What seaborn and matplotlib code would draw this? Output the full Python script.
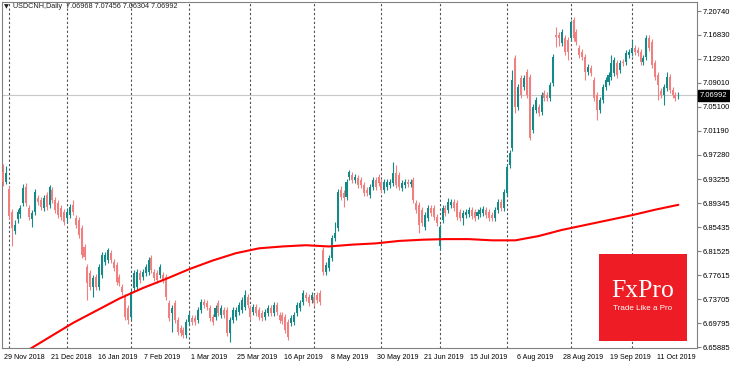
import numpy as np
import pandas as pd
import matplotlib
matplotlib.use("Agg")
import matplotlib.pyplot as plt
import matplotlib.transforms as mtransforms
from matplotlib.patches import Rectangle
import seaborn as sns

# USDCNH daily candles, 29 Nov 2018 .. 22 Oct 2019 (bar index = trading day)
open_ = [
    6.945, 6.928, 6.917, 6.879, 6.848, 6.868, 6.876, 6.894, 6.920, 6.886,
    6.868, 6.879, 6.902, 6.899, 6.886, 6.907, 6.891, 6.915, 6.899, 6.894,
    6.886, 6.879, 6.869, 6.874, 6.891, 6.869, 6.866, 6.853, 6.822, 6.789,
    6.780, 6.757, 6.773, 6.757, 6.776, 6.798, 6.801, 6.812, 6.798, 6.793,
    6.773, 6.757, 6.741, 6.723, 6.708, 6.755, 6.757, 6.780, 6.773, 6.780,
    6.781, 6.804, 6.781, 6.780, 6.776, 6.776, 6.773, 6.731, 6.714, 6.731,
    6.703, 6.690, 6.687, 6.678, 6.700, 6.706, 6.706, 6.703, 6.719, 6.732,
    6.731, 6.723, 6.708, 6.708, 6.731, 6.711, 6.719, 6.719, 6.682, 6.703,
    6.708, 6.716, 6.719, 6.724, 6.741, 6.723, 6.716, 6.724, 6.719, 6.714,
    6.708, 6.714, 6.723, 6.714, 6.728, 6.711, 6.711, 6.708, 6.700, 6.698,
    6.700, 6.714, 6.723, 6.732, 6.744, 6.741, 6.736, 6.741, 6.744, 6.747,
    6.817, 6.781, 6.788, 6.804, 6.837, 6.853, 6.915, 6.911, 6.904, 6.937,
    6.940, 6.932, 6.935, 6.932, 6.924, 6.915, 6.907, 6.920, 6.932, 6.937,
    6.928, 6.915, 6.920, 6.924, 6.927, 6.943, 6.940, 6.919, 6.924, 6.928,
    6.925, 6.932, 6.894, 6.891, 6.883, 6.855, 6.869, 6.886, 6.886, 6.871,
    6.824, 6.866, 6.886, 6.883, 6.891, 6.896, 6.894, 6.879, 6.869, 6.874,
    6.876, 6.883, 6.879, 6.873, 6.876, 6.878, 6.883, 6.879, 6.874, 6.869,
    6.883, 6.896, 6.886, 6.911, 6.956, 6.984, 7.131, 7.051, 7.098, 7.083,
    7.108, 7.100, 7.013, 7.046, 7.051, 7.043, 7.073, 7.070, 7.065, 7.090,
    7.168, 7.168, 7.155, 7.163, 7.160, 7.163, 7.193, 7.173, 7.147, 7.140,
    7.132, 7.108, 7.114, 7.095, 7.070, 7.046, 7.062, 7.083, 7.091, 7.100,
    7.106, 7.123, 7.111, 7.124, 7.124, 7.136, 7.139, 7.147, 7.144, 7.140,
    7.124, 7.132, 7.163, 7.157, 7.123, 7.103, 7.077, 7.070, 7.082, 7.100,
    7.078, 7.070, 7.06968,
]
high = [
    6.958, 6.954, 6.922, 6.884, 6.866, 6.884, 6.891, 6.925, 6.927, 6.891,
    6.883, 6.917, 6.907, 6.904, 6.907, 6.912, 6.924, 6.920, 6.904, 6.899,
    6.891, 6.884, 6.884, 6.892, 6.899, 6.874, 6.871, 6.858, 6.827, 6.794,
    6.785, 6.777, 6.778, 6.794, 6.814, 6.814, 6.821, 6.817, 6.803, 6.798,
    6.778, 6.762, 6.746, 6.727, 6.754, 6.785, 6.787, 6.785, 6.786, 6.794,
    6.806, 6.809, 6.786, 6.785, 6.794, 6.781, 6.778, 6.736, 6.728, 6.736,
    6.708, 6.695, 6.692, 6.705, 6.716, 6.711, 6.711, 6.724, 6.737, 6.737,
    6.736, 6.728, 6.713, 6.728, 6.736, 6.728, 6.724, 6.724, 6.708, 6.724,
    6.724, 6.733, 6.741, 6.752, 6.746, 6.728, 6.729, 6.729, 6.724, 6.719,
    6.721, 6.728, 6.728, 6.733, 6.733, 6.716, 6.716, 6.713, 6.705, 6.711,
    6.716, 6.733, 6.736, 6.752, 6.749, 6.746, 6.749, 6.746, 6.749, 6.752,
    6.822, 6.798, 6.809, 6.842, 6.863, 6.917, 6.922, 6.916, 6.933, 6.948,
    6.945, 6.942, 6.940, 6.937, 6.929, 6.920, 6.925, 6.937, 6.937, 6.942,
    6.933, 6.933, 6.933, 6.933, 6.961, 6.956, 6.945, 6.932, 6.933, 6.933,
    6.933, 6.937, 6.899, 6.896, 6.888, 6.879, 6.891, 6.891, 6.891, 6.876,
    6.860, 6.891, 6.891, 6.902, 6.901, 6.901, 6.899, 6.884, 6.883, 6.884,
    6.888, 6.888, 6.884, 6.884, 6.888, 6.889, 6.888, 6.884, 6.879, 6.888,
    6.901, 6.901, 6.917, 6.958, 6.981, 7.111, 7.136, 7.088, 7.103, 7.103,
    7.113, 7.105, 7.056, 7.067, 7.056, 7.075, 7.078, 7.075, 7.092, 7.137,
    7.181, 7.173, 7.178, 7.168, 7.165, 7.193, 7.198, 7.178, 7.152, 7.145,
    7.137, 7.121, 7.119, 7.100, 7.075, 7.067, 7.088, 7.100, 7.108, 7.136,
    7.132, 7.128, 7.128, 7.129, 7.144, 7.145, 7.160, 7.152, 7.149, 7.145,
    7.136, 7.168, 7.168, 7.162, 7.128, 7.108, 7.082, 7.088, 7.108, 7.105,
    7.083, 7.075, 7.07456,
]
low = [
    6.922, 6.925, 6.868, 6.824, 6.843, 6.862, 6.870, 6.889, 6.889, 6.866,
    6.855, 6.874, 6.891, 6.883, 6.881, 6.883, 6.886, 6.894, 6.878, 6.870,
    6.866, 6.858, 6.861, 6.869, 6.874, 6.853, 6.837, 6.804, 6.801, 6.736,
    6.752, 6.741, 6.752, 6.752, 6.771, 6.793, 6.796, 6.796, 6.783, 6.760,
    6.758, 6.744, 6.703, 6.697, 6.703, 6.750, 6.752, 6.763, 6.768, 6.775,
    6.776, 6.780, 6.767, 6.763, 6.771, 6.763, 6.736, 6.701, 6.683, 6.698,
    6.678, 6.677, 6.673, 6.673, 6.695, 6.695, 6.695, 6.698, 6.714, 6.723,
    6.719, 6.701, 6.695, 6.703, 6.709, 6.706, 6.706, 6.677, 6.667, 6.698,
    6.703, 6.711, 6.714, 6.719, 6.723, 6.703, 6.711, 6.709, 6.703, 6.701,
    6.703, 6.709, 6.709, 6.709, 6.711, 6.698, 6.696, 6.682, 6.670, 6.693,
    6.695, 6.709, 6.718, 6.727, 6.734, 6.726, 6.731, 6.726, 6.731, 6.727,
    6.776, 6.776, 6.783, 6.799, 6.832, 6.848, 6.899, 6.887, 6.899, 6.932,
    6.927, 6.927, 6.919, 6.919, 6.906, 6.906, 6.902, 6.915, 6.915, 6.922,
    6.910, 6.910, 6.915, 6.919, 6.922, 6.919, 6.915, 6.914, 6.919, 6.920,
    6.920, 6.894, 6.878, 6.845, 6.856, 6.850, 6.864, 6.873, 6.866, 6.856,
    6.817, 6.861, 6.873, 6.878, 6.886, 6.881, 6.866, 6.864, 6.858, 6.869,
    6.871, 6.868, 6.864, 6.868, 6.871, 6.873, 6.869, 6.864, 6.864, 6.864,
    6.878, 6.881, 6.881, 6.906, 6.951, 6.979, 7.041, 7.046, 7.065, 7.078,
    7.065, 6.997, 7.008, 7.041, 7.036, 7.038, 7.060, 7.060, 7.060, 7.085,
    7.149, 7.150, 7.150, 7.135, 7.127, 7.158, 7.158, 7.152, 7.131, 7.127,
    7.095, 7.103, 7.101, 7.060, 7.030, 7.041, 7.057, 7.078, 7.086, 7.095,
    7.101, 7.098, 7.106, 7.118, 7.119, 7.131, 7.134, 7.135, 7.134, 7.119,
    7.119, 7.127, 7.142, 7.114, 7.095, 7.062, 7.065, 7.054, 7.077, 7.073,
    7.065, 7.060, 7.06304,
]
close = [
    6.928, 6.943, 6.873, 6.853, 6.858, 6.879, 6.886, 6.919, 6.894, 6.871,
    6.878, 6.912, 6.896, 6.887, 6.902, 6.887, 6.920, 6.899, 6.883, 6.874,
    6.871, 6.863, 6.879, 6.887, 6.879, 6.858, 6.842, 6.809, 6.806, 6.763,
    6.757, 6.772, 6.757, 6.789, 6.809, 6.809, 6.817, 6.801, 6.788, 6.765,
    6.763, 6.749, 6.708, 6.703, 6.749, 6.780, 6.781, 6.768, 6.781, 6.789,
    6.801, 6.785, 6.772, 6.768, 6.789, 6.768, 6.741, 6.706, 6.723, 6.703,
    6.683, 6.682, 6.678, 6.700, 6.711, 6.700, 6.700, 6.719, 6.732, 6.728,
    6.724, 6.706, 6.700, 6.723, 6.714, 6.723, 6.711, 6.682, 6.703, 6.719,
    6.719, 6.728, 6.736, 6.744, 6.728, 6.708, 6.724, 6.714, 6.708, 6.706,
    6.716, 6.723, 6.714, 6.728, 6.716, 6.703, 6.701, 6.687, 6.675, 6.706,
    6.711, 6.728, 6.731, 6.747, 6.739, 6.731, 6.744, 6.731, 6.736, 6.732,
    6.781, 6.793, 6.804, 6.837, 6.845, 6.912, 6.904, 6.902, 6.928, 6.945,
    6.932, 6.937, 6.924, 6.924, 6.911, 6.911, 6.920, 6.932, 6.920, 6.927,
    6.915, 6.928, 6.928, 6.928, 6.943, 6.924, 6.920, 6.927, 6.928, 6.925,
    6.928, 6.899, 6.883, 6.858, 6.861, 6.874, 6.886, 6.878, 6.871, 6.861,
    6.855, 6.886, 6.878, 6.896, 6.896, 6.886, 6.871, 6.869, 6.878, 6.879,
    6.883, 6.873, 6.869, 6.879, 6.883, 6.884, 6.874, 6.869, 6.869, 6.883,
    6.896, 6.886, 6.912, 6.953, 6.976, 7.095, 7.051, 7.083, 7.070, 7.098,
    7.070, 7.000, 7.051, 7.062, 7.041, 7.070, 7.065, 7.065, 7.087, 7.132,
    7.165, 7.163, 7.173, 7.140, 7.140, 7.189, 7.163, 7.157, 7.136, 7.132,
    7.108, 7.116, 7.106, 7.065, 7.046, 7.062, 7.083, 7.095, 7.103, 7.123,
    7.127, 7.103, 7.123, 7.123, 7.139, 7.140, 7.147, 7.140, 7.139, 7.124,
    7.131, 7.163, 7.147, 7.119, 7.100, 7.087, 7.070, 7.083, 7.100, 7.078,
    7.070, 7.065, 7.06992,
]

# 200-day moving average, read every 8 bars
ma_bars = list(range(0, 233, 8))
ma_values = [
    6.628, 6.652, 6.675, 6.698, 6.718, 6.738, 6.755, 6.770, 6.786, 6.800,
    6.812, 6.820, 6.823, 6.825, 6.823, 6.826, 6.828, 6.832, 6.834, 6.835,
    6.835, 6.833, 6.833, 6.840, 6.850, 6.858, 6.866, 6.874, 6.883, 6.891,
]

# first bar of each month (period separators)
month_bars = [2, 22, 44, 64, 85, 107, 130, 150, 173, 195, 216]

date_ticks = list(range(0, 225, 16))
date_labels = ['29 Nov 2018', '21 Dec 2018', '16 Jan 2019', '7 Feb 2019',
               '1 Mar 2019', '25 Mar 2019', '16 Apr 2019', '8 May 2019',
               '30 May 2019', '21 Jun 2019', '15 Jul 2019', '6 Aug 2019',
               '28 Aug 2019', '19 Sep 2019', '11 Oct 2019']

price_ticks = [7.20740, 7.16830, 7.12920, 7.09010, 7.05100, 7.01190, 6.97280,
               6.93255, 6.89345, 6.85435, 6.81525, 6.77615, 6.73705, 6.69795,
               6.65885]

sns.set_style("white")
plt.rcParams['font.family'] = ['Liberation Sans', 'DejaVu Sans']

df = pd.DataFrame({'open': open_, 'high': high, 'low': low, 'close': close})
df['bar'] = np.arange(len(df))
up = df['close'] >= df['open']

fig = plt.figure(figsize=(7.3, 3.65), dpi=100)
ax = fig.add_axes([2 / 730, 1 - 348 / 365, 695 / 730, 346 / 365])

for b in month_bars:
    ax.axvline(b, color='#505050', lw=0.8, ls=(0, (2, 2)), zorder=1)

ax.axhline(close[-1], color='#c8c8c8', lw=0.8, zorder=1)

for mask, col in [(up, '#138a87'), (~up, '#f08080')]:
    d = df[mask]
    ax.vlines(d['bar'], d['low'], d['high'], color=col, lw=0.8, zorder=3)
    body = (d['close'] - d['open']).abs().clip(lower=0.0008)
    ax.bar(d['bar'], body, bottom=d[['open', 'close']].min(axis=1),
           width=0.7, color=col, lw=0, zorder=4)

sns.lineplot(x=ma_bars, y=ma_values, color='#ff0000', lw=1.5, ax=ax, zorder=5)

ax.set_xlim(-0.34, 238.4)
ax.set_ylim(6.65722, 7.22213)

ax.yaxis.tick_right()
ax.set_yticks(price_ticks)
ax.set_yticklabels(['%.5f' % v for v in price_ticks])
ax.set_xticks(date_ticks)
ax.set_xticklabels(date_labels, ha='left')
ax.tick_params(axis='both', length=3, width=0.8, color='#808080',
               labelcolor='black')
ax.tick_params(axis='y', labelsize=5.5, pad=0.8)
ax.tick_params(axis='x', labelsize=5.1, pad=1.5)
shift = mtransforms.ScaledTranslation(1.5 / 100, 0, fig.dpi_scale_trans)
for lab in ax.get_xticklabels():
    lab.set_transform(lab.get_transform() + shift)
ax.set_xlabel('')
ax.set_ylabel('')

for s in ax.spines.values():
    s.set_color('#808080')
    s.set_linewidth(0.8)

# current price tag
trans = mtransforms.blended_transform_factory(ax.transAxes, ax.transData)
ax.text(1.0 + 2.5 / 695, close[-1], '%.5f' % close[-1], transform=trans,
        ha='left', va='center', fontsize=5.5, color='white', clip_on=False,
        bbox=dict(boxstyle='square,pad=0.25', fc='black', ec='black'))

# header
fig.text(4 / 730, 1 - 7 / 365, '▼', fontsize=4.5, family='DejaVu Sans',
         color='#202020', va='center')
fig.text(13 / 730, 1 - 7 / 365, 'USDCNH,Daily  7.06968 7.07456 7.06304 7.06992',
         fontsize=5.2, color='#202020', va='center')

# FxPro logo
fig.add_artist(Rectangle((599 / 730, 1 - 341 / 365), 88 / 730, 87 / 365,
                         transform=fig.transFigure, fc='#ee1c25', ec='none',
                         zorder=10))
fig.text(643 / 730, 1 - 291 / 365, 'FxPro', family='Liberation Serif',
         fontsize=18.5, color='white', ha='center', va='center', zorder=11)
fig.text(643 / 730, 1 - 309 / 365, 'Trade Like a Pro', fontsize=5.8,
         color='white', ha='center', va='center', zorder=11)

fig.savefig('out.png', dpi=100)
